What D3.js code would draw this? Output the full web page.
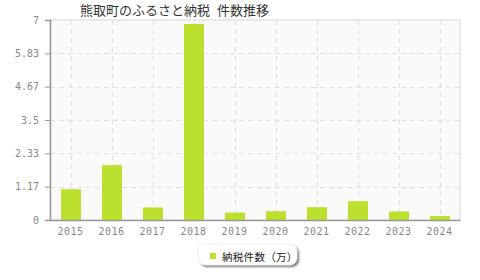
<!DOCTYPE html>
<html><head><meta charset="utf-8">
<script src="https://cdn.jsdelivr.net/npm/d3@7"></script>
<style>body{margin:0;background:#fff}svg{display:block}</style>
</head><body>
<script>
const title = "熊取町のふるさと納税 件数推移";
const seriesName = "納税件数（万）";
const years = ["2015","2016","2017","2018","2019","2020","2021","2022","2023","2024"];
const counts = [1.08, 1.92, 0.44, 6.86, 0.26, 0.31, 0.45, 0.66, 0.30, 0.14];
const yTicks = [0, 1.17, 2.33, 3.5, 4.67, 5.83, 7];
const yTickLabels = ["0","1.17","2.33","3.5","4.67","5.83","7"];

const W = 480, H = 280;
const m = {left: 50, right: 20, top: 20, bottom: 60};
const svg = d3.select("body").append("svg").attr("width", W).attr("height", H);
const x = d3.scaleBand().domain(years).range([m.left, W - m.right]).paddingInner(0).paddingOuter(0);
const y = d3.scaleLinear().domain([0, 7]).range([H - m.bottom, m.top]);

const defs = svg.append("defs");
const f = defs.append("filter").attr("id", "sh").attr("x", "-20%").attr("y", "-30%").attr("width", "140%").attr("height", "170%");
f.append("feGaussianBlur").attr("stdDeviation", 0.8);

// plot background
svg.append("rect").attr("x", m.left).attr("y", m.top)
  .attr("width", W - m.left - m.right).attr("height", H - m.top - m.bottom)
  .attr("fill", "#fafafa").attr("stroke", "#e4e4e4").attr("stroke-width", 1.5);

// grid
const g = svg.append("g");
g.selectAll(".hg").data(yTicks.slice(1, -1)).join("line")
  .attr("x1", m.left).attr("x2", W - m.right)
  .attr("y1", d => Math.round(y(d)) + 0.5).attr("y2", d => Math.round(y(d)) + 0.5)
  .attr("stroke", "#e2e2e2").attr("stroke-dasharray", "5,4").attr("stroke-width", 1.2);
g.selectAll(".vg").data(years).join("line")
  .attr("x1", d => Math.round(x(d) + x.bandwidth() / 2) + 0.5)
  .attr("x2", d => Math.round(x(d) + x.bandwidth() / 2) + 0.5)
  .attr("y1", m.top).attr("y2", H - m.bottom)
  .attr("stroke", "#e2e2e2").attr("stroke-dasharray", "5,4").attr("stroke-width", 1.2);

// bars
const bw = 20;
svg.selectAll(".bar").data(counts).join("rect")
  .attr("x", (d, i) => Math.round(x(years[i]) + x.bandwidth() / 2 - bw / 2))
  .attr("y", d => y(d)).attr("width", bw).attr("height", d => y(0) - y(d))
  .attr("fill", "#bce02e");

// axes
const yAxis = svg.append("g").attr("transform", `translate(${m.left},0)`)
  .call(d3.axisLeft(y).tickValues(yTicks).tickFormat((d, i) => yTickLabels[i]).tickSize(5).tickPadding(6));
const xAxis = svg.append("g").attr("transform", `translate(0,${H - m.bottom})`)
  .call(d3.axisBottom(x).tickSize(0).tickPadding(8));
[yAxis, xAxis].forEach(a => {
  a.select(".domain").attr("stroke", "#999").attr("stroke-width", 1.5);
  a.selectAll(".tick line").attr("stroke", "#999");
  a.selectAll("text").attr("fill", "#888").attr("font-family", "DejaVu Sans Mono, monospace").attr("font-size", 10);
});
xAxis.selectAll("text").attr("letter-spacing", 0.5);

// title
svg.append("text").attr("x", 80).attr("y", 15).text(title)
  .attr("font-family", "Noto Sans CJK JP, sans-serif").attr("font-size", 13).attr("fill", "#333")
  .attr("word-spacing", 4).style("white-space", "pre");

// legend
const lg = svg.append("g");
lg.append("rect").attr("x", 200).attr("y", 246).attr("width", 99).attr("height", 21).attr("rx", 7)
  .attr("fill", "#777").attr("filter", "url(#sh)");
lg.append("rect").attr("x", 198).attr("y", 244).attr("width", 99).attr("height", 21).attr("rx", 7)
  .attr("fill", "#fff").attr("stroke", "#eee");
lg.append("rect").attr("x", 210).attr("y", 253).attr("width", 6).attr("height", 6).attr("fill", "#bce02e");
lg.append("text").attr("x", 222).attr("y", 261).text(seriesName)
  .attr("font-family", "Noto Sans CJK JP, sans-serif").attr("font-size", 10.5).attr("fill", "#222")
  .attr("letter-spacing", 0.3);
</script>
</body></html>
